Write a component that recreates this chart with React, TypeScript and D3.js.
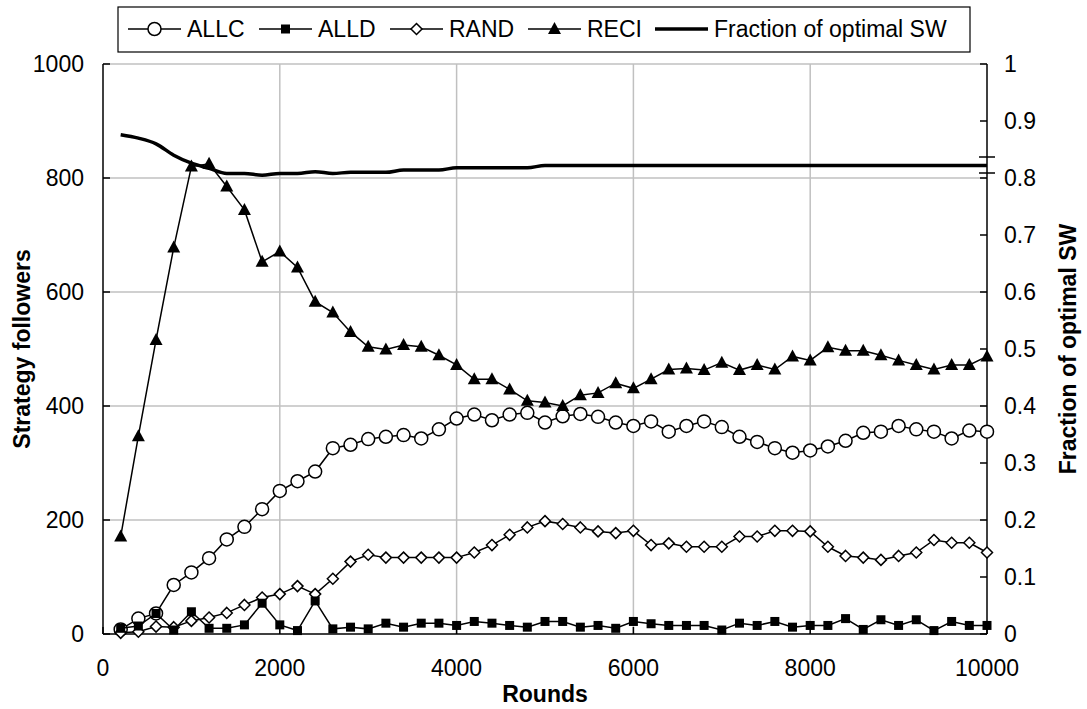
import React from 'react';
import * as d3 from 'd3';

const rounds = [200,400,600,800,1000,1200,1400,1600,1800,2000,2200,2400,2600,2800,3000,3200,3400,3600,3800,4000,4200,4400,4600,4800,5000,5200,5400,5600,5800,6000,6200,6400,6600,6800,7000,7200,7400,7600,7800,8000,8200,8400,8600,8800,9000,9200,9400,9600,9800,10000];
const allc = [8,27,36,86,108,133,166,188,219,251,268,285,326,332,342,346,349,343,359,378,385,375,385,388,371,382,386,381,371,365,373,355,365,373,363,346,337,326,318,322,329,339,353,355,365,359,355,343,357,355];
const alld = [10,14,36,7,39,10,10,16,54,16,6,58,9,12,9,19,12,19,19,15,22,19,15,12,22,22,12,15,10,22,18,15,15,15,7,19,15,22,12,15,15,27,8,25,15,25,6,22,15,15];
const rand = [2,4,13,12,23,29,37,51,64,70,84,70,97,127,139,134,134,134,134,134,143,156,174,187,198,193,187,180,177,181,156,159,153,153,153,171,171,181,181,180,153,137,134,130,137,143,165,160,160,143];
const reci = [171,347,516,678,820,825,785,744,653,671,643,583,564,530,504,499,507,504,489,472,447,447,429,409,406,400,419,423,440,431,447,464,466,463,476,463,472,464,487,480,503,497,497,489,480,472,464,472,472,487];
const sw = [0.876,0.870,0.860,0.840,0.826,0.817,0.808,0.808,0.805,0.808,0.808,0.811,0.808,0.810,0.810,0.810,0.814,0.814,0.814,0.818,0.818,0.818,0.818,0.818,0.822,0.822,0.822,0.822,0.822,0.822,0.822,0.822,0.822,0.822,0.822,0.822,0.822,0.822,0.822,0.822,0.822,0.822,0.822,0.822,0.822,0.822,0.822,0.822,0.822,0.822];

const xTicks = [0,2000,4000,6000,8000,10000];
const yTicks = [0,200,400,600,800,1000];
const y2Ticks = [0,0.1,0.2,0.3,0.4,0.5,0.6,0.7,0.8,0.9,1];
const legendLabels = ['ALLC','ALLD','RAND','RECI','Fraction of optimal SW'];

const FONT = 'Liberation Sans, Arial, sans-serif';

function Marker({type, x, y}: {type: string; x: number; y: number}) {
  if (type === 'circle') return <circle cx={x} cy={y} r={6.5} fill="#fff" stroke="#000" strokeWidth={1.5} />;
  if (type === 'square') return <rect x={x - 4.5} y={y - 4.5} width={9} height={9} fill="#000" />;
  if (type === 'diamond') return <path d={`M${x},${y - 5.5}L${x + 5.5},${y}L${x},${y + 5.5}L${x - 5.5},${y}Z`} fill="#fff" stroke="#000" strokeWidth={1.5} />;
  if (type === 'triangle') return <path d={`M${x},${y - 7}L${x + 6.5},${y + 5}L${x - 6.5},${y + 5}Z`} fill="#000" />;
  return null;
}

export default function App() {
  const W = 1087, H = 709;
  const x = d3.scaleLinear().domain([0, 10000]).range([103, 987]);
  const y = d3.scaleLinear().domain([0, 1000]).range([634, 64]);
  const y2 = d3.scaleLinear().domain([0, 1]).range([634, 64]);
  const line = d3.line<number>().x((_, i) => x(rounds[i])).y(d => y(d));
  const swLine = d3.line<number>().x((_, i) => x(rounds[i])).y(d => y2(d)).curve(d3.curveMonotoneX);

  const series = [
    { data: allc, type: 'circle' },
    { data: rand, type: 'diamond' },
    { data: alld, type: 'square' },
    { data: reci, type: 'triangle' },
  ];

  const legendItems = [
    { label: legendLabels[0], type: 'circle', w: 60 },
    { label: legendLabels[1], type: 'square', w: 60 },
    { label: legendLabels[2], type: 'diamond', w: 67 },
    { label: legendLabels[3], type: 'triangle', w: 56 },
    { label: legendLabels[4], type: 'sw', w: 243 },
  ];
  let cx = 128;
  const legendPos = legendItems.map(it => {
    const p = { ...it, sx: cx, tx: cx + 59 };
    cx = cx + 59 + it.w + 12;
    return p;
  });

  return (
    <svg width={W} height={H} style={{ position: 'absolute', left: 0, top: 0, background: '#fff' }} fontFamily={FONT}>
      <rect x={0} y={0} width={W} height={H} fill="#fff" />
      {yTicks.filter(t => t > 0).map(t => (
        <line key={'gy' + t} x1={x(0)} x2={x(10000)} y1={y(t)} y2={y(t)} stroke="#c0c0c0" strokeWidth={1.5} />
      ))}
      {xTicks.filter(t => t > 0 && t < 10000).map(t => (
        <line key={'gx' + t} x1={x(t)} x2={x(t)} y1={y(0)} y2={y(1000)} stroke="#c0c0c0" strokeWidth={1.5} />
      ))}
      <line x1={x(0)} x2={x(0)} y1={y(0)} y2={y(1000)} stroke="#000" strokeWidth={1.5} />
      <line x1={x(10000)} x2={x(10000)} y1={y(0)} y2={y(1000)} stroke="#000" strokeWidth={1.5} />
      <line x1={x(0)} x2={x(10000)} y1={y(0)} y2={y(0)} stroke="#000" strokeWidth={1.5} />
      {yTicks.map(t => (
        <g key={'ty' + t}>
          <line x1={x(0)} x2={x(0) + 7} y1={y(t)} y2={y(t)} stroke="#000" strokeWidth={1.5} />
          <text x={84} y={y(t)} dy="0.35em" textAnchor="end" fontSize={23}>{t}</text>
        </g>
      ))}
      {y2Ticks.map(t => (
        <g key={'ty2' + t}>
          <line x1={x(10000) - 7} x2={x(10000)} y1={y2(t)} y2={y2(t)} stroke="#000" strokeWidth={1.5} />
          <text x={1004} y={y2(t)} dy="0.35em" textAnchor="start" fontSize={23}>{String(t)}</text>
        </g>
      ))}
      <line x1={979} x2={995} y1={157} y2={157} stroke="#000" strokeWidth={1.5} />
      <line x1={979} x2={995} y1={173} y2={173} stroke="#000" strokeWidth={1.5} />
      {xTicks.map(t => (
        <g key={'tx' + t}>
          <line x1={x(t)} x2={x(t)} y1={y(0)} y2={y(0) - 7} stroke="#000" strokeWidth={1.5} />
          <text x={x(t)} y={676} textAnchor="middle" fontSize={23}>{t}</text>
        </g>
      ))}
      <text x={(x(0) + x(10000)) / 2} y={702} textAnchor="middle" fontSize={23} fontWeight="bold">Rounds</text>
      <text transform={`translate(30,${(y(0) + y(1000)) / 2}) rotate(-90)`} textAnchor="middle" fontSize={23} fontWeight="bold">Strategy followers</text>
      <text transform={`translate(1076,${(y(0) + y(1000)) / 2}) rotate(-90)`} textAnchor="middle" fontSize={23} fontWeight="bold">Fraction of optimal SW</text>

      <path d={swLine(sw) || ''} fill="none" stroke="#000" strokeWidth={3.5} />
      {series.map((s, si) => (
        <g key={'s' + si}>
          <path d={line(s.data) || ''} fill="none" stroke="#000" strokeWidth={1.5} />
          {s.data.map((v, i) => <Marker key={i} type={s.type} x={x(rounds[i])} y={y(v)} />)}
        </g>
      ))}

      <rect x={118} y={7} width={852} height={45} fill="#fff" stroke="#000" strokeWidth={1.2} />
      {legendPos.map((it, i) => (
        <g key={'lg' + i}>
          <line x1={it.sx} x2={it.sx + 53} y1={29} y2={29} stroke="#000" strokeWidth={it.type === 'sw' ? 3.5 : 1.5} />
          {it.type !== 'sw' && <Marker type={it.type} x={it.sx + 26.5} y={29} />}
          <text x={it.tx} y={29} dy="0.35em" fontSize={23}>{it.label}</text>
        </g>
      ))}
    </svg>
  );
}
